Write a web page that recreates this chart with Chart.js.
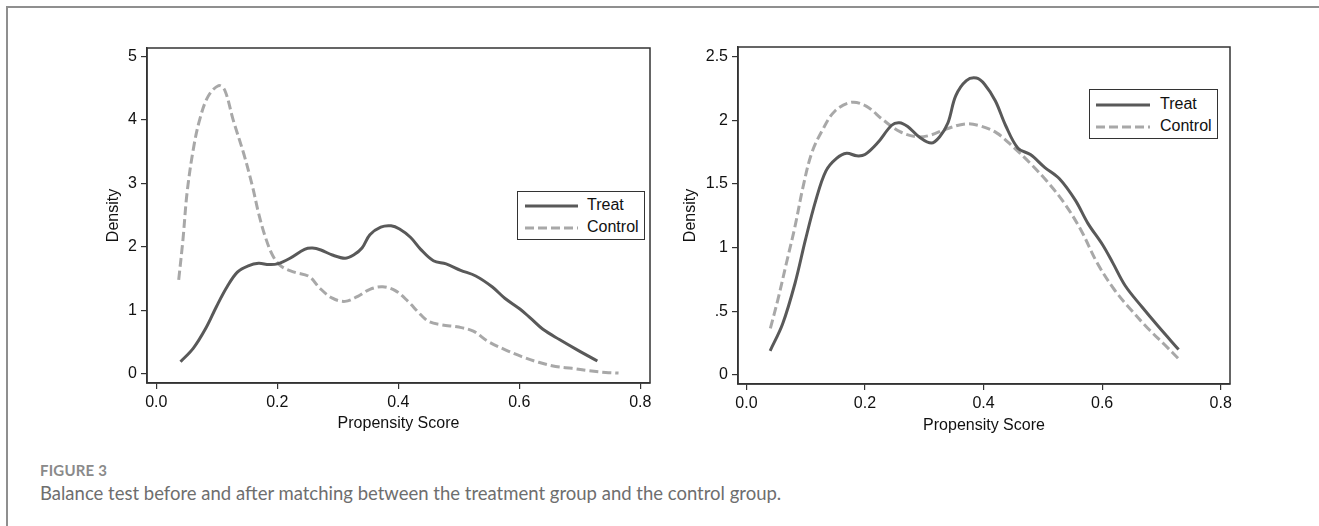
<!DOCTYPE html>
<html><head><meta charset="utf-8">
<script src="https://cdn.jsdelivr.net/npm/chart.js@4/dist/chart.umd.min.js"></script>
<style>
html,body{margin:0;padding:0;background:#fff;width:1319px;height:526px;overflow:hidden;position:relative;}
#frame{position:absolute;left:6px;top:6px;width:1400px;height:600px;border-top:2px solid #8f8f8f;border-left:2px solid #8f8f8f;}
canvas{position:absolute;top:0;}
.legend{position:absolute;box-sizing:border-box;border:1px solid #333;background:#fff;font-family:"Liberation Sans",Arial,sans-serif;font-size:16px;color:#111;}
.legend svg{position:absolute;left:0;top:0;}
.legend span{position:absolute;line-height:18px;white-space:nowrap;}
#fig{position:absolute;left:40px;top:461px;font-family:"Lato",sans-serif;font-weight:700;font-size:15px;line-height:18px;color:#8a8a8a;letter-spacing:0.2px;}
#cap{position:absolute;left:40px;top:481px;font-family:"Lato",sans-serif;font-size:18.5px;line-height:24px;color:#6e6e6e;white-space:nowrap;}
</style>
</head><body>
<div id="frame"></div>
<canvas id="c1" width="660" height="445" style="left:0px"></canvas>
<canvas id="c2" width="659" height="445" style="left:660px"></canvas>
<div id="leg1" class="legend"></div>
<div id="leg2" class="legend"></div>
<div id="fig"></div>
<div id="cap"></div>
<script>
// ---- data ----
const seriesNames = ['Treat', 'Control'];
const xAxisTitle = 'Propensity Score';
const yAxisTitle = 'Density';
const xTickValues = [0, 0.2, 0.4, 0.6, 0.8];
const xTickLabels = ['0.0', '0.2', '0.4', '0.6', '0.8'];
const yTickValuesLeft = [0, 1, 2, 3, 4, 5];
const yTickLabelsLeft = ['0', '1', '2', '3', '4', '5'];
const yTickValuesRight = [0, 0.5, 1, 1.5, 2, 2.5];
const yTickLabelsRight = ['0', '.5', '1', '1.5', '2', '2.5'];

// Treat (same in both panels)
const treatX = [0.040,0.061,0.082,0.0995,0.117,0.134,0.152,0.169,0.186,0.200,0.221,0.245,0.258,0.272,0.291,0.312,0.326,0.340,0.353,0.371,0.388,0.402,0.420,0.437,0.458,0.479,0.503,0.528,0.555,0.576,0.601,0.618,0.639,0.667,0.695,0.729];
const treatY = [0.19,0.40,0.72,1.06,1.37,1.60,1.70,1.74,1.72,1.73,1.82,1.96,1.98,1.95,1.87,1.82,1.87,1.98,2.19,2.31,2.33,2.28,2.15,1.96,1.78,1.73,1.63,1.54,1.37,1.19,1.02,0.88,0.70,0.535,0.38,0.20];

// Control before matching (left panel)
const ctrlBeforeX = [0.037,0.044,0.0508,0.061,0.0716,0.0856,0.103,0.113,0.127,0.145,0.159,0.169,0.180,0.193,0.207,0.228,0.253,0.270,0.291,0.312,0.333,0.353,0.374,0.395,0.416,0.437,0.451,0.472,0.500,0.524,0.548,0.576,0.604,0.632,0.660,0.687,0.715,0.743,0.764];
const ctrlBeforeY = [1.48,2.11,2.85,3.53,4.0,4.37,4.54,4.47,4.0,3.45,2.95,2.53,2.16,1.85,1.69,1.60,1.53,1.35,1.19,1.14,1.22,1.33,1.37,1.31,1.14,0.93,0.82,0.77,0.735,0.67,0.51,0.38,0.27,0.18,0.115,0.085,0.047,0.02,0.01];

// Control after matching (right panel)
const ctrlAfterX = [0.0404,0.053,0.0674,0.0817,0.0957,0.110,0.128,0.149,0.177,0.202,0.231,0.259,0.287,0.309,0.337,0.369,0.394,0.422,0.450,0.479,0.507,0.536,0.564,0.592,0.621,0.649,0.677,0.706,0.731];
const ctrlAfterY = [0.366,0.59,0.877,1.16,1.48,1.74,1.92,2.07,2.14,2.11,2.00,1.91,1.87,1.88,1.93,1.97,1.955,1.90,1.79,1.66,1.52,1.35,1.14,0.877,0.667,0.51,0.367,0.235,0.118];

const figureLabel = 'FIGURE 3';
const captionText = 'Balance test before and after matching between the treatment group and the control group.';

// ---- styles ----
const treatColor = '#595959';
const ctrlColor = '#a8a8a8';
const axisColor = '#333333';
const dashPattern = [9, 4];

Chart.defaults.font.family = "'Liberation Sans', Arial, sans-serif";
Chart.defaults.font.size = 16;
Chart.defaults.color = '#111';

function pts(xs, ys) { return xs.map((x, i) => ({x: x, y: ys[i]})); }

const boxPlugin = {
  id: 'plotbox',
  afterDatasetsDraw(chart) {
    const a = chart.chartArea, ctx = chart.ctx;
    ctx.save();
    ctx.strokeStyle = axisColor;
    ctx.lineWidth = 1.5;
    ctx.strokeRect(a.left, a.top, a.right - a.left, a.bottom - a.top);
    ctx.restore();
  }
};

function makeChart(id, ctrlX, ctrlY, g) {
  return new Chart(document.getElementById(id), {
    type: 'line',
    data: {
      datasets: [
        {label: seriesNames[0], data: pts(treatX, treatY), borderColor: treatColor, borderWidth: 3, pointRadius: 0, tension: 0.35, fill: false},
        {label: seriesNames[1], data: pts(ctrlX, ctrlY), borderColor: ctrlColor, borderWidth: 3, borderDash: dashPattern, pointRadius: 0, tension: 0.35, fill: false}
      ]
    },
    options: {
      responsive: false,
      animation: false,
      events: [],
      layout: {padding: {left: 0, top: g.top, right: g.right, bottom: 0}},
      plugins: {legend: {display: false}, tooltip: {enabled: false}},
      scales: {
        x: {
          type: 'linear', min: g.xmin, max: g.xmax,
          afterBuildTicks: s => { s.ticks = xTickValues.map(v => ({value: v})); },
          afterFit: s => { s.height = g.xh; },
          ticks: {padding: 4, color: '#111', maxRotation: 0, autoSkip: false,
                  callback: (v) => { const i = xTickValues.indexOf(v); return i >= 0 ? xTickLabels[i] : ''; }},
          grid: {display: true, drawOnChartArea: false, drawTicks: true, tickLength: 6, color: axisColor, lineWidth: 1.2},
          border: {display: true, color: axisColor, width: 1.5},
          title: {display: true, text: xAxisTitle, color: '#111', font: {size: 16}, padding: {top: 0, bottom: g.xtb}}
        },
        y: {
          type: 'linear', min: g.ymin, max: g.ymax,
          afterBuildTicks: s => { s.ticks = g.yv.map(v => ({value: v})); },
          afterFit: s => { s.width = g.yw; },
          ticks: {padding: 4, color: '#111', autoSkip: false,
                  callback: (v) => { const i = g.yv.indexOf(v); return i >= 0 ? g.yl[i] : ''; }},
          grid: {display: true, drawOnChartArea: false, drawTicks: true, tickLength: 6, color: axisColor, lineWidth: 1.2},
          border: {display: true, color: axisColor, width: 1.5},
          title: {display: true, text: yAxisTitle, color: '#111', font: {size: 16}, padding: {top: g.ytp, bottom: 0}}
        }
      }
    },
    plugins: [boxPlugin]
  });
}

makeChart('c1', ctrlBeforeX, ctrlBeforeY, {
  top: 48, right: 10, xh: 62, yw: 147, xtb: 12, ytp: 104,
  xmin: -0.0154, xmax: 0.816, ymin: -0.146, ymax: 5.132,
  yv: yTickValuesLeft, yl: yTickLabelsLeft
});
makeChart('c2', ctrlAfterX, ctrlAfterY, {
  top: 47, right: 89, xh: 61, yw: 78, xtb: 10, ytp: 21,
  xmin: -0.0142, xmax: 0.8157, ymin: -0.0707, ymax: 2.574,
  yv: yTickValuesRight, yl: yTickLabelsRight
});

function buildLegend(id, box, rows, sx0, sx1, tx) {
  const el = document.getElementById(id);
  el.style.left = box[0] + 'px'; el.style.top = box[1] + 'px';
  el.style.width = box[2] + 'px'; el.style.height = box[3] + 'px';
  const ns = 'http://www.w3.org/2000/svg';
  const svg = document.createElementNS(ns, 'svg');
  svg.setAttribute('width', box[2]); svg.setAttribute('height', box[3]);
  const styles = [{c: treatColor, d: ''}, {c: ctrlColor, d: dashPattern.join(' ')}];
  seriesNames.forEach((name, i) => {
    const ln = document.createElementNS(ns, 'line');
    ln.setAttribute('x1', sx0); ln.setAttribute('x2', sx1);
    ln.setAttribute('y1', rows[i]); ln.setAttribute('y2', rows[i]);
    ln.setAttribute('stroke', styles[i].c); ln.setAttribute('stroke-width', 3);
    if (styles[i].d) ln.setAttribute('stroke-dasharray', styles[i].d);
    svg.appendChild(ln);
    const sp = document.createElement('span');
    sp.textContent = name;
    sp.style.left = tx + 'px'; sp.style.top = (rows[i] - 9 - 1) + 'px';
    el.appendChild(sp);
  });
  el.insertBefore(svg, el.firstChild);
}
buildLegend('leg1', [517, 191, 128, 49], [14, 36], 7, 60, 69);
buildLegend('leg2', [1089, 89, 129, 50], [15, 37], 6, 60, 70);

document.getElementById('fig').textContent = figureLabel;
document.getElementById('cap').textContent = captionText;
</script>
</body></html>
